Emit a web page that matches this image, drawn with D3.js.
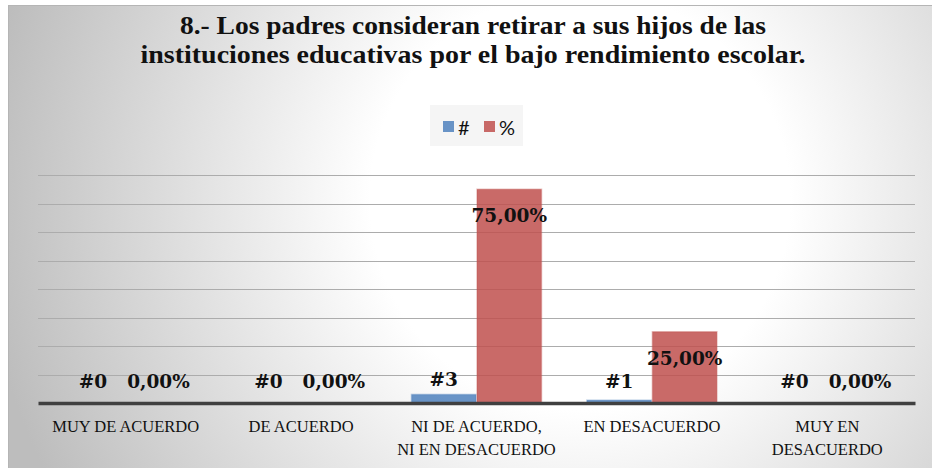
<!DOCTYPE html>
<html>
<head>
<meta charset="utf-8">
<script src="https://cdn.jsdelivr.net/npm/d3@7"></script>
<style>
  body { margin: 0; background: #fff; }
  svg { display: block; }
</style>
</head>
<body>
<div id="chart"></div>
<script>
// chart data
var titleLines = ["8.- Los padres consideran retirar a sus hijos de las",
                  "instituciones educativas por el bajo rendimiento escolar."];
var categories = ["MUY DE ACUERDO", "DE ACUERDO", "NI DE ACUERDO,\nNI EN DESACUERDO",
                  "EN DESACUERDO", "MUY EN\nDESACUERDO"];
var seriesNames = ["#", "%"];
var countValues = [0, 0, 3, 1, 0];
var percentValues = [0, 0, 75, 25, 0];
var gridTicks = [10, 20, 30, 40, 50, 60, 70, 80];

var colors = { "#": "#4f81bd", "%": "#c0504d" };
// Cambria is wider than the serif we have, so stretch the title lines
var titleWidths = [586, 665];

var width = 932, height = 468;

var svg = d3.select("#chart").append("svg")
    .attr("width", width)
    .attr("height", height);

// background with radial gradient
var defs = svg.append("defs");
var grad = defs.append("radialGradient")
    .attr("id", "bg")
    .attr("gradientUnits", "userSpaceOnUse")
    .attr("cx", 580).attr("cy", 200).attr("r", 600);
grad.append("stop").attr("offset", "0").attr("stop-color", "#ffffff");
grad.append("stop").attr("offset", "0.35").attr("stop-color", "#ffffff");
grad.append("stop").attr("offset", "1").attr("stop-color", "#bdbdbd");

svg.append("rect")
    .attr("x", 8.5).attr("y", 5.5)
    .attr("width", width - 8).attr("height", height - 5)
    .attr("fill", "url(#bg)")
    .attr("stroke", "#b5b5b5");

// title
svg.append("g").selectAll("text")
    .data(titleLines)
    .enter().append("text")
    .attr("x", 473)
    .attr("y", function(d, i) { return 34 + i * 29; })
    .attr("text-anchor", "middle")
    .attr("font-family", "'Liberation Serif', serif")
    .attr("font-weight", "bold")
    .attr("font-size", 25)
    .attr("textLength", function(d, i) { return titleWidths[i]; })
    .attr("lengthAdjust", "spacingAndGlyphs")
    .attr("fill", "#111")
    .text(function(d) { return d; });

// legend
var legend = svg.append("g");
legend.append("rect")
    .attr("x", 430).attr("y", 105).attr("width", 93).attr("height", 41)
    .attr("fill", "#f2f2f2").attr("fill-opacity", 0.8);
var legendItems = legend.selectAll("g")
    .data(seriesNames)
    .enter().append("g")
    .attr("transform", function(d, i) { return "translate(" + (443 + i * 41) + ",0)"; });
legendItems.append("rect")
    .attr("x", 0).attr("y", 121).attr("width", 11).attr("height", 11)
    .attr("fill", function(d) { return colors[d]; })
    .attr("fill-opacity", 0.85);
legendItems.append("text")
    .attr("x", 15).attr("y", 135)
    .attr("font-family", "Lato, 'Liberation Sans', sans-serif")
    .attr("font-size", 20)
    .attr("fill", "#111")
    .text(function(d) { return d; });

// scales
var x = d3.scaleBand()
    .domain(categories)
    .range([38, 915])
    .paddingInner(0.253)
    .paddingOuter(0.1265);

var xSeries = d3.scaleBand()
    .domain(seriesNames)
    .range([0, x.bandwidth()]);

var y = d3.scaleLinear()
    .domain([0, 80])
    .range([403, 175]);

// gridlines
svg.append("g").selectAll("line")
    .data(gridTicks)
    .enter().append("line")
    .attr("x1", 38).attr("x2", 915)
    .attr("y1", function(d) { return Math.round(y(d)) + 0.5; })
    .attr("y2", function(d) { return Math.round(y(d)) + 0.5; })
    .attr("stroke", "#acacac")
    .attr("stroke-width", 1.2);

// bars
var rows = categories.map(function(c, i) {
    return { cat: c, values: [
        { key: "#", v: countValues[i], label: "#" + countValues[i] },
        { key: "%", v: percentValues[i], label: percentValues[i].toFixed(2).replace(".", ",") + "%" }
    ] };
});

var groups = svg.append("g").selectAll("g")
    .data(rows)
    .enter().append("g")
    .attr("transform", function(d) { return "translate(" + x(d.cat) + ",0)"; });

groups.selectAll("rect")
    .data(function(d) { return d.values; })
    .enter().append("rect")
    .attr("x", function(d) { return xSeries(d.key) + 0.5; })
    .attr("y", function(d) { return y(d.v); })
    .attr("width", xSeries.bandwidth() - 1)
    .attr("height", function(d) { return y(0) - y(d.v); })
    .attr("fill", function(d) { return colors[d.key]; })
    .attr("fill-opacity", 0.85)
    .attr("stroke", function(d) { return colors[d.key]; })
    .attr("stroke-opacity", 0.35)
    .attr("stroke-width", 1.5);

// data labels
groups.selectAll("text")
    .data(function(d) { return d.values; })
    .enter().append("text")
    .attr("x", function(d) { return xSeries(d.key) + xSeries.bandwidth() / 2; })
    .attr("y", function(d) {
        if (d.key === "%" && d.v > 0) return y(d.v) + 33;
        return Math.min(y(d.v) - 8, y(0) - 15);
    })
    .attr("text-anchor", "middle")
    .attr("font-family", "'DejaVu Serif', serif")
    .attr("font-weight", "bold")
    .attr("font-size", 18.5)
    .attr("fill", "#111")
    .text(function(d) { return d.label; });

// category axis
var xAxis = d3.axisBottom(x).tickSize(0).tickFormat("");
var axisG = svg.append("g")
    .attr("transform", "translate(0," + y(0) + ")")
    .call(xAxis);
axisG.select(".domain")
    .attr("stroke", "#404040")
    .attr("stroke-width", 3.5);

axisG.selectAll(".tick text").remove();
axisG.selectAll(".tick").append("text")
    .attr("text-anchor", "middle")
    .attr("font-family", "'Liberation Serif', serif")
    .attr("font-size", 16.5)
    .attr("fill", "#111")
    .each(function(d) {
        var t = d3.select(this);
        d.split("\n").forEach(function(line, i) {
            t.append("tspan").attr("x", 0).attr("y", 29 + i * 23).text(line);
        });
    });
</script>
</body>
</html>
